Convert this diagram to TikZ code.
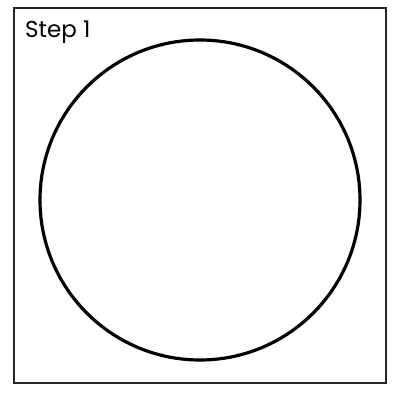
\documentclass[tikz,border=0pt]{standalone}
\usepackage{fontspec}
\setmainfont{Poppins}
\begin{document}
\begin{tikzpicture}[x=1pt,y=1pt]
    % Rahmen der Seite
    \useasboundingbox (0,0) rectangle (400,400);

    % Kasten
    \draw[line width=1.5pt, black!85] (14,17) rectangle (386,392);

    % Titel
    \node[anchor=base west, inner sep=0pt, font=\fontsize{23}{26}\selectfont] (titel) at (25,362) {Step 1};

    % Kreis
    \draw[line width=3.2pt] (200,200) circle (160);
\end{tikzpicture}
\end{document}
